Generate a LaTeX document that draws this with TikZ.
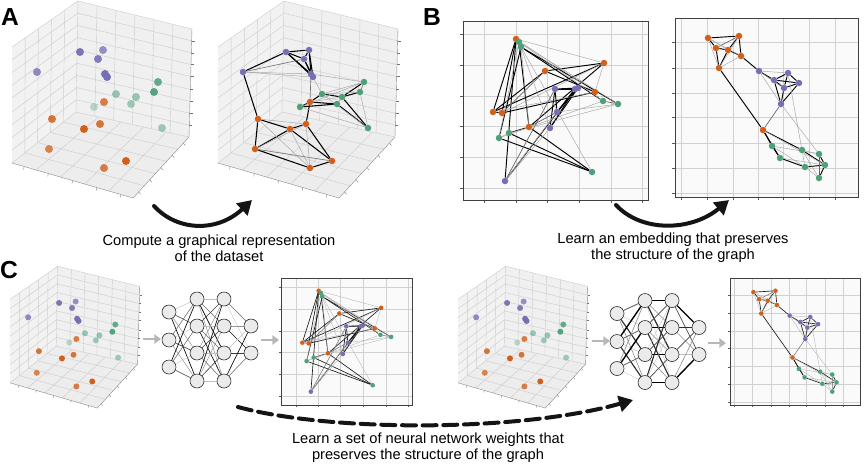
\documentclass[tikz,border=0pt]{standalone}
\usepackage{fontspec}
\setmainfont{Liberation Sans}
\usetikzlibrary{arrows.meta,calc}
\pgfdeclarelayer{grid}
\pgfdeclarelayer{edges}
\pgfsetlayers{grid,edges,main}
\definecolor{org}{HTML}{D2601A}
\definecolor{pur}{HTML}{7570B3}
\definecolor{grn}{HTML}{4DA078}
\def\px{0.03cm}

\tikzset{
  dot/.style={circle, inner sep=0pt, draw=none},
  cgrid/.style={draw=black!20, line width=0.35pt},
  ctick/.style={draw=black!55, line width=0.3pt},
  caxis/.style={draw=black!45, line width=0.35pt},
  plotbg/.style={fill=black!2},
  pgrid/.style={draw=black!18, line width=0.45pt},
  ptick/.style={draw=black!65, line width=0.4pt},
  pframe/.style={draw=black!75, line width=0.6pt},
  nn/.style={circle, draw=black!85, fill=black!8, minimum size=14*\px, inner sep=0pt, line width=0.5pt},
  garrow/.style={draw=black!28, line width=0.075cm, -{Triangle[length=0.2cm,width=0.28cm]}},
  bigarr/.style={draw=black!92, line width=0.12cm, line cap=round, -{Triangle[length=0.42cm,width=0.48cm]}},
  captxt/.style={font=\fontsize{12.5}{14}\selectfont, align=center, inner sep=0pt},
  panlab/.style={font=\fontsize{21}{21}\selectfont\bfseries, inner sep=0pt},
  eS/.style={draw=black, line width=0.8pt},
  eM/.style={draw=black!60, line width=0.6pt},
  eW/.style={draw=black!35, line width=0.4pt}
}

% 3D scatter positions (panel A left coordinates): name/colour/x/y/opacity
\def\ptsA{p6/pur/37/72/0.8, p1/pur/80/52/0.95, p2/pur/103/50/0.75, p3/pur/98/59/0.9, p4/pur/105/74/1, p5/pur/107/77/1,
 g6/grn/94/107/0.35, g3/grn/116/94/0.55, g4/grn/136/97/0.55, g5/grn/131/104/0.5, g1/grn/158/82/0.85, g2/grn/154/92/0.95, g7/grn/162/128/0.5,
 o1/org/104/102/0.8, o2/org/52/119/0.85, o3/org/100/124/0.85, o4/org/84/129/1, o5/org/49/149/0.75, o6/org/126/161/1, o7/org/104/168/0.8}

\def\ptsBL{p1/pur/575/89/1, p2/pur/578/88/1, p3/pur/555/89/1, p4/pur/557/112/1, p5/pur/550/128/1, p6/pur/505/181/1,
 o1/org/529/127/1, o2/org/516/39/1, o3/org/604/63/1, o4/org/493/112/1, o5/org/502/113/1, o6/org/545/71/1, o7/org/595/92/1,
 g1/grn/618/104/1, g2/grn/603/101/1, g3/grn/519/42/1, g4/grn/521/47/1, g5/grn/592/172/1, g6/grn/509/133/1, g7/grn/499/138/1}

\def\ptsBR{o1/org/763/130/1, o2/org/741/56/1, o3/org/719/68/1, o4/org/728/50/1, o5/org/739/36/1, o6/org/716/48/1, o7/org/708/38/1,
 p1/pur/774/80/1, p2/pur/799/83/1, p3/pur/784/88/1, p4/pur/781/104/1, p5/pur/788/73/1, p6/pur/759/71/1,
 g1/grn/819/154/1, g2/grn/819/178/1, g3/grn/802/150/1, g4/grn/825/165/1, g5/grn/780/158/1, g6/grn/772/146/1, g7/grn/805/167/1}

\def\edgelist{p6/p1/eS, p1/p2/eS, p1/p4/eS, p1/p3/eS, p3/p4/eS, p2/p4/eS, p2/p3/eS, p5/p1/eS, p5/p2/eS, p5/p3/eS,
 p6/o2/eS, o2/o5/eS, o2/o4/eS, o4/o3/eS, o4/o5/eS, o4/o6/eS, o5/o7/eS, o7/o6/eS, o3/o6/eS, o3/o1/eS,
 o1/g6/eS, o1/g3/eS, o1/g5/eS, g3/g4/eS, g4/g1/eS, g4/g2/eS, g5/g7/eS, g4/g7/eS, g6/g5/eS, p4/o1/eM,
 o5/o6/eM, g1/g2/eM, p3/p6/eM, o2/o7/eW, o5/o3/eW, g5/g4/eW, g2/g7/eW, p5/g3/eW,
 p6/p4/eW, p6/p5/eW, p4/g1/eW, o2/o3/eW, o3/o7/eW, o4/o7/eW, g6/g7/eW, g3/g2/eW, g6/g1/eW, o1/g4/eW, g3/g1/eW, g3/g7/eW}

\newcommand{\cubeaxes}{%
 \coordinate (cTL) at (12,47);
 \coordinate (cT) at (78,1);
 \coordinate (cTR) at (192,29);
 \coordinate (cBL) at (12,163);
 \coordinate (cB) at (76,112);
 \coordinate (cBR) at (189,137);
 \coordinate (cF) at (133,198);
 \begin{pgfonlayer}{grid}
  \fill[black!5] (cTL)--(cT)--(cB)--(cBL)--cycle;
  \fill[black!6] (cT)--(cTR)--(cBR)--(cB)--cycle;
  \fill[black!7] (cB)--(cBR)--(cF)--(cBL)--cycle;
  \foreach \t in {0.2,0.4,0.6,0.8}{%
    \draw[cgrid] ($(cTL)!\t!(cT)$) -- ($(cBL)!\t!(cB)$);
    \draw[cgrid] ($(cB)!\t!(cBL)$) -- ($(cBR)!\t!(cF)$);
    \draw[cgrid] ($(cB)!\t!(cBR)$) -- ($(cBL)!\t!(cF)$);}
  \foreach \t in {0.167,0.333,0.5,0.667,0.833}{%
    \draw[cgrid] ($(cT)!\t!(cTR)$) -- ($(cB)!\t!(cBR)$);}
  \foreach \t in {0.11,0.22,0.33,0.44,0.56,0.67,0.78,0.89}{%
    \draw[cgrid] ($(cTL)!\t!(cBL)$) -- ($(cT)!\t!(cB)$) -- ($(cTR)!\t!(cBR)$);
    \draw[ctick] ($(cTR)!\t!(cBR)$) -- ++(3,0);}
  \foreach \t in {0.1,0.3,0.5,0.7,0.9}{%
    \draw[ctick] ($(cBL)!\t!(cF)$) -- ++(-0.5,3);
    \draw[ctick] ($(cF)!\t!(cBR)$) -- ++(2,2.5);}
  \draw[cgrid] (cTL)--(cT)--(cTR) (cT)--(cB) (cBL)--(cB)--(cBR);
  \draw[caxis] (cBL)--(cF)--(cBR)--(cTR);
 \end{pgfonlayer}}

% scatter with opacity: prefix, dot size
\newcommand{\scatterA}[2]{%
 \foreach \n/\col/\x/\y/\op in \ptsA {\node[dot, fill=\col, fill opacity=\op, minimum size=#2] (#1-\n) at (\x,\y) {};}}

% graph: prefix, positions, dot size
\newcommand{\graphdraw}[3]{%
 \foreach \n/\col/\x/\y/\op in #2 {\node[dot, fill=\col, minimum size=#3] (#1-\n) at (\x,\y) {};}
 \begin{pgfonlayer}{edges}
 \foreach \ea/\eb/\est in \edgelist {\draw[\est] (#1-\ea) -- (#1-\eb);}
 \end{pgfonlayer}}

\newcommand{\frameBL}{%
 \begin{pgfonlayer}{grid}
 \fill[plotbg] (463,21) rectangle (648,200);
 \foreach \v in {484,516,547,579,611,642} {\draw[pgrid] (\v,21) -- (\v,200); \draw[ptick] (\v,200) -- (\v,203);}
 \foreach \h in {34,65,96,126,157,188} {\draw[pgrid] (463,\h) -- (648,\h); \draw[ptick] (463,\h) -- (460,\h);}
 \draw[pframe] (463,21) rectangle (648,200);
 \end{pgfonlayer}}

\newcommand{\frameBR}{%
 \begin{pgfonlayer}{grid}
 \fill[plotbg] (675,18) rectangle (858,197);
 \foreach \v in {681,707,733,758,783,809,835} {\draw[pgrid] (\v,18) -- (\v,197); \draw[ptick] (\v,197) -- (\v,200);}
 \foreach \h in {42,68,93,117,143,168,193} {\draw[pgrid] (675,\h) -- (858,\h); \draw[ptick] (675,\h) -- (672,\h);}
 \draw[pframe] (675,18) rectangle (858,197);
 \end{pgfonlayer}}

% neural net: prefix, seed, shade step, width base, width step
\newcommand{\nnet}[5]{%
 \foreach \j/\y in {1/312,2/340,3/367} {\node[nn] (#1-a\j) at (169,\y) {};}
 \foreach \j/\y in {1/299,2/326,3/353,4/381} {\node[nn] (#1-b\j) at (197,\y) {}; \node[nn] (#1-c\j) at (224,\y) {};}
 \foreach \j/\y in {1/326,2/353} {\node[nn] (#1-d\j) at (251,\y) {};}
 \begin{pgfonlayer}{edges}
 \foreach \i in {1,2,3}{\foreach \j in {1,2,3,4}{%
   \pgfmathtruncatemacro{\w}{mod(\i*7+\j*3+#2,5)}%
   \pgfmathtruncatemacro{\sh}{min(100,25+#3*\w)}\pgfmathsetmacro{\lw}{#4+#5*\w}%
   \draw[draw=black!\sh, line width=\lw pt] (#1-a\i) -- (#1-b\j);}}
 \foreach \i in {1,2,3,4}{\foreach \j in {1,2,3,4}{%
   \pgfmathtruncatemacro{\w}{mod(\i*3+\j*7+2*#2,5)}%
   \pgfmathtruncatemacro{\sh}{min(100,25+#3*\w)}\pgfmathsetmacro{\lw}{#4+#5*\w}%
   \draw[draw=black!\sh, line width=\lw pt] (#1-b\i) -- (#1-c\j);}}
 \foreach \i in {1,2,3,4}{\foreach \j in {1,2}{%
   \pgfmathtruncatemacro{\w}{mod(\i*4+\j*3+#2,5)}%
   \pgfmathtruncatemacro{\sh}{min(100,25+#3*\w)}\pgfmathsetmacro{\lw}{#4+#5*\w}%
   \draw[draw=black!\sh, line width=\lw pt] (#1-c\i) -- (#1-d\j);}}
 \end{pgfonlayer}}

\begin{document}
\begin{tikzpicture}[x=0.03cm,y=-0.03cm]
\useasboundingbox (0,0) rectangle (864,464);

% ---------- Panel A ----------
\node[panlab] (labA) at (10,17) {A};
\begin{scope}
  \cubeaxes
  \scatterA{AL}{8*\px}
\end{scope}
\begin{scope}[shift={(206,0)}, eS/.style={draw=black, line width=0.9pt}, eM/.style={draw=black!55, line width=0.55pt}, eW/.style={draw=black!35, line width=0.4pt}]
  \cubeaxes
  \graphdraw{AR}{\ptsA}{6.5*\px}
\end{scope}
\coordinate (arrAs) at (154,206);
\coordinate (arrAe) at (252,200);
\draw[bigarr] (arrAs) .. controls (178,232) and (218,232) .. (arrAe);
\node[captxt] (capA) at (219,248) {Compute a graphical representation\\of the dataset};

% ---------- Panel B ----------
\node[panlab] (labB) at (432,17) {B};
\frameBL
\graphdraw{BL}{\ptsBL}{6.5*\px}
\frameBR
\graphdraw{BR}{\ptsBR}{6.5*\px}
\coordinate (arrBs) at (616,205);
\coordinate (arrBe) at (729,200);
\draw[bigarr] (arrBs) .. controls (642,233) and (692,231) .. (arrBe);
\node[captxt] (capB) at (673,248) {Learn an embedding that preserves\\the structure of the graph};

% ---------- Panel C ----------
\node[panlab] (labC) at (9,270) {C};
\begin{scope}[shift={(1.5,265.5)}, scale=0.72]
  \cubeaxes
  \scatterA{CL}{6*\px}
\end{scope}
\begin{scope}
  \nnet{N1}{0}{17}{0.35}{0.06}
\end{scope}
\begin{scope}[shift={(-47.7,263.1)}, scale=0.71, eS/.style={draw=black!90, line width=0.55pt}, eM/.style={draw=black!55, line width=0.45pt}, eW/.style={draw=black!30, line width=0.3pt}]
  \frameBL
  \graphdraw{CM}{\ptsBL}{4.6*\px}
\end{scope}
\begin{scope}[shift={(449.5,265.5)}, scale=0.72]
  \cubeaxes
  \scatterA{CQ}{6*\px}
\end{scope}
\begin{scope}[shift={(448,1.5)}]
  \nnet{N2}{2}{19}{0.3}{0.22}
\end{scope}
\begin{scope}[shift={(250.75,265.2)}, scale=0.71, eS/.style={draw=black!90, line width=0.55pt}, eM/.style={draw=black!55, line width=0.45pt}, eW/.style={draw=black!30, line width=0.3pt}]
  \frameBR
  \graphdraw{CR}{\ptsBR}{4.6*\px}
\end{scope}

% grey flow arrows
\coordinate (g1s) at (143,339); \coordinate (g1e) at (161,339);
\coordinate (g2s) at (261,340); \coordinate (g2e) at (279,340);
\coordinate (g3s) at (592,341); \coordinate (g3e) at (610,341);
\coordinate (g4s) at (708,343); \coordinate (g4e) at (726,343);
\draw[garrow] (g1s) -- (g1e);
\draw[garrow] (g2s) -- (g2e);
\draw[garrow] (g3s) -- (g3e);
\draw[garrow] (g4s) -- (g4e);

\coordinate (arrCs) at (238,407);
\coordinate (arrCe) at (633,400);
\draw[bigarr, dash pattern=on 0.42cm off 0.2cm] (arrCs) .. controls (330,432) and (520,432) .. (arrCe);
\node[captxt] (capC) at (428,448) {Learn a set of neural network weights that\\preserves the structure of the graph};
\end{tikzpicture}
\end{document}
